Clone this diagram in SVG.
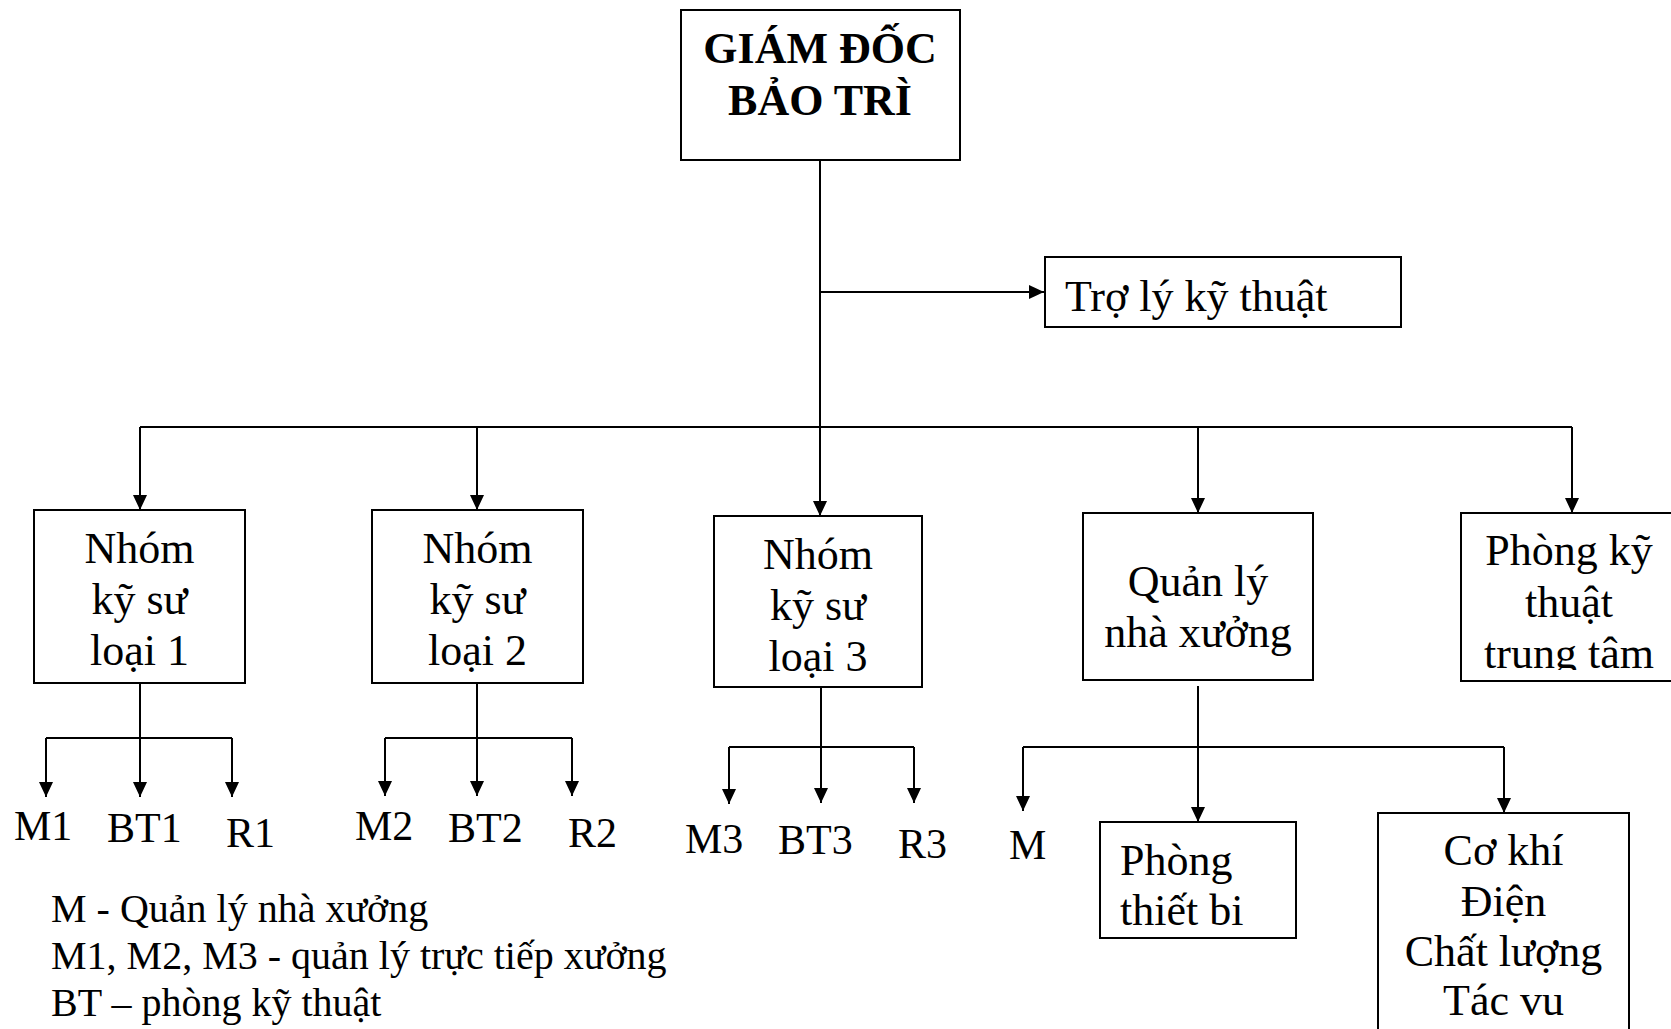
<svg xmlns="http://www.w3.org/2000/svg" width="1671" height="1029" viewBox="0 0 1671 1029">
<style>
.box{fill:#fff;stroke:#000;stroke-width:2}
.ln{fill:none;stroke:#000;stroke-width:2}
.t{font-family:"Liberation Serif","Times New Roman",serif;font-size:44px;fill:#000;text-anchor:middle}
.b{font-weight:bold}
.lb{font-family:"Liberation Serif","Times New Roman",serif;font-size:42px;fill:#000}
.lg{font-family:"Liberation Serif","Times New Roman",serif;font-size:40px;fill:#000}
</style>
<defs>
<marker id="ah" markerUnits="userSpaceOnUse" markerWidth="15" markerHeight="14" refX="15" refY="7" orient="auto">
<path d="M0,0 L15,7 L0,14 z" fill="#000"/>
</marker>
<clipPath id="c5"><rect x="1461" y="513" width="220" height="157"/></clipPath>
</defs>
<rect width="1671" height="1029" fill="#fff"/>

<g id="connectors">
<path class="ln" d="M820,160 V516" marker-end="url(#ah)"/>
<path class="ln" d="M820,292 H1044" marker-end="url(#ah)"/>
<path class="ln" d="M140,427 H1572"/>
<path class="ln" d="M140,427 V510" marker-end="url(#ah)"/>
<path class="ln" d="M477,427 V510" marker-end="url(#ah)"/>
<path class="ln" d="M1198,427 V513" marker-end="url(#ah)"/>
<path class="ln" d="M1572,427 V513" marker-end="url(#ah)"/>

<path class="ln" d="M140,683 V797" marker-end="url(#ah)"/>
<path class="ln" d="M46,738 H232"/>
<path class="ln" d="M46,738 V797" marker-end="url(#ah)"/>
<path class="ln" d="M232,738 V797" marker-end="url(#ah)"/>

<path class="ln" d="M477,683 V796" marker-end="url(#ah)"/>
<path class="ln" d="M385,738 H572"/>
<path class="ln" d="M385,738 V796" marker-end="url(#ah)"/>
<path class="ln" d="M572,738 V796" marker-end="url(#ah)"/>

<path class="ln" d="M821,687 V803" marker-end="url(#ah)"/>
<path class="ln" d="M729,747 H914"/>
<path class="ln" d="M729,747 V804" marker-end="url(#ah)"/>
<path class="ln" d="M914,747 V803" marker-end="url(#ah)"/>

<path class="ln" d="M1198,686 V822" marker-end="url(#ah)"/>
<path class="ln" d="M1023,747 H1504"/>
<path class="ln" d="M1023,747 V811" marker-end="url(#ah)"/>
<path class="ln" d="M1504,747 V813" marker-end="url(#ah)"/>
</g>

<g id="giam-doc">
<rect class="box" x="681" y="10" width="279" height="150"/>
<text class="t b" x="820" y="63">GIÁM ĐỐC</text>
<text class="t b" x="820" y="115">BẢO TRÌ</text>
</g>

<g id="tro-ly">
<rect class="box" x="1045" y="257" width="356" height="70"/>
<text class="t" x="1065" y="311" style="text-anchor:start">Trợ lý kỹ thuật</text>
</g>

<g id="nhom1">
<rect class="box" x="34" y="510" width="211" height="173"/>
<text class="t" x="139.5" y="563">Nhóm</text>
<text class="t" x="139.5" y="614">kỹ sư</text>
<text class="t" x="139.5" y="665">loại 1</text>
</g>

<g id="nhom2">
<rect class="box" x="372" y="510" width="211" height="173"/>
<text class="t" x="477.5" y="563">Nhóm</text>
<text class="t" x="477.5" y="614">kỹ sư</text>
<text class="t" x="477.5" y="665">loại 2</text>
</g>

<g id="nhom3">
<rect class="box" x="714" y="516" width="208" height="171"/>
<text class="t" x="818" y="569">Nhóm</text>
<text class="t" x="818" y="620">kỹ sư</text>
<text class="t" x="818" y="671">loại 3</text>
</g>

<g id="quan-ly">
<rect class="box" x="1083" y="513" width="230" height="167"/>
<text class="t" x="1198" y="596">Quản lý</text>
<text class="t" x="1198" y="647">nhà xưởng</text>
</g>

<g id="phong-ktt">
<rect class="box" x="1461" y="513" width="220" height="168"/>
<g clip-path="url(#c5)">
<text class="t" x="1569" y="565">Phòng kỹ</text>
<text class="t" x="1569" y="617">thuật</text>
<text class="t" x="1569" y="668">trung tâm</text>
</g>
</g>

<g id="phong-tb">
<rect class="box" x="1100" y="822" width="196" height="116"/>
<text class="t" x="1120" y="875" style="text-anchor:start">Phòng</text>
<text class="t" x="1120" y="925" style="text-anchor:start">thiết bi</text>
</g>

<g id="co-khi">
<rect class="box" x="1378" y="813" width="251" height="240"/>
<text class="t" x="1503.5" y="865">Cơ khí</text>
<text class="t" x="1503.5" y="916">Điện</text>
<text class="t" x="1503.5" y="966">Chất lượng</text>
<text class="t" x="1503.5" y="1015">Tác vu</text>
</g>

<g id="labels">
<text class="lb" x="14" y="840">M1</text>
<text class="lb" x="107" y="842">BT1</text>
<text class="lb" x="226" y="847">R1</text>
<text class="lb" x="355" y="840">M2</text>
<text class="lb" x="448" y="842">BT2</text>
<text class="lb" x="568" y="847">R2</text>
<text class="lb" x="685" y="853">M3</text>
<text class="lb" x="778" y="854">BT3</text>
<text class="lb" x="898" y="858">R3</text>
<text class="lb" x="1009" y="859">M</text>
</g>

<g id="legend">
<text class="lg" x="51" y="922">M - Quản lý nhà xưởng</text>
<text class="lg" x="51" y="969">M1, M2, M3 - quản lý trực tiếp xưởng</text>
<text class="lg" x="51" y="1016">BT – phòng kỹ thuật</text>
</g>
</svg>
